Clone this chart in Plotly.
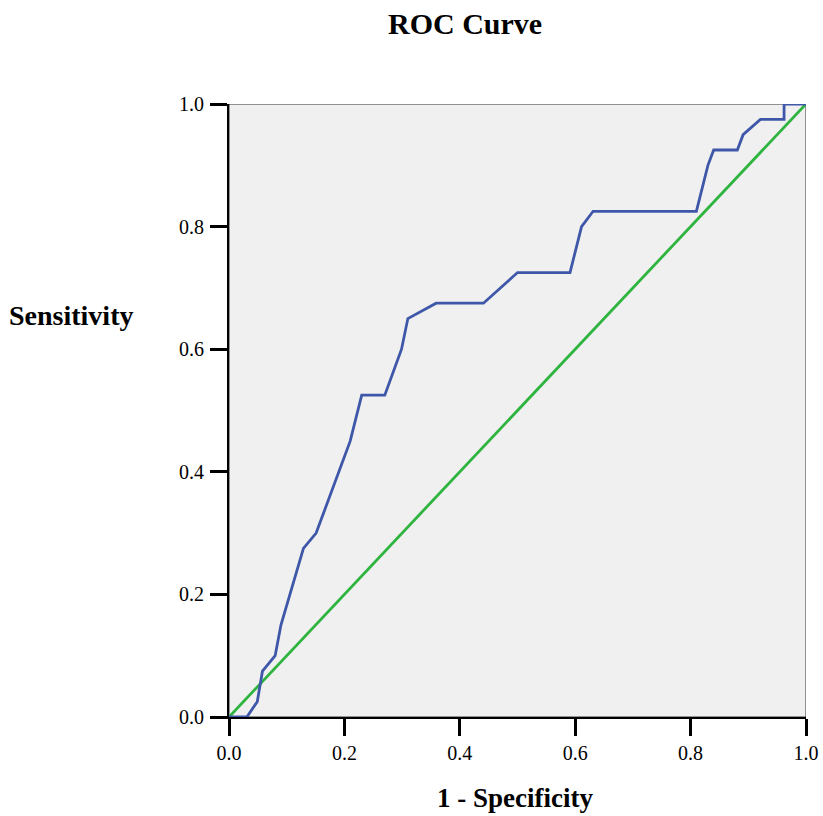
import plotly.graph_objects as go

fpr = [0.0, 0.031, 0.049, 0.058, 0.080, 0.090, 0.129, 0.151, 0.210, 0.230, 0.270,
       0.299, 0.310, 0.359, 0.441, 0.500, 0.591, 0.611, 0.631, 0.810, 0.830, 0.840,
       0.881, 0.891, 0.921, 0.962, 0.962, 1.0]
tpr = [0.0, 0.0, 0.025, 0.075, 0.100, 0.150, 0.275, 0.300, 0.450, 0.525, 0.525,
       0.600, 0.650, 0.675, 0.675, 0.725, 0.725, 0.800, 0.825, 0.825, 0.900, 0.925,
       0.925, 0.950, 0.975, 0.975, 1.0, 1.0]
ref_x = [0.0, 1.0]
ref_y = [0.0, 1.0]
tick_vals = [0.0, 0.2, 0.4, 0.6, 0.8, 1.0]
tick_text = ["0.0", "0.2", "0.4", "0.6", "0.8", "1.0"]

# body margin is removed in the page, so the figure fills the 823x816 window
W, H = 823, 816
# target plot area: x 229..806, y 104..717
L, T = 229, 104
R = W - 806
B = H - 717
PW = W - L - R
PH = H - T - B


def px_x(sx):
    return (sx - L) / PW


def px_y(sy):
    return (717 - sy) / PH


fig = go.Figure()
fig.add_trace(go.Scatter(x=ref_x, y=ref_y, mode="lines",
                         line=dict(color="#2EB43F", width=2.8), showlegend=False))
fig.add_trace(go.Scatter(x=fpr, y=tpr, mode="lines",
                         line=dict(color="#3F57A9", width=2.8), showlegend=False))

font = dict(family="Liberation Serif, Times New Roman, serif", color="black")
axis_common = dict(range=[0, 1], tickvals=tick_vals, ticktext=tick_text,
                   showgrid=False, zeroline=False, showline=True, linecolor="black",
                   linewidth=2, ticks="outside", ticklen=17, tickwidth=2.5,
                   tickcolor="black", tickfont=dict(size=20, **font),
                   automargin=False)

fig.update_layout(
    width=W, height=H,
    margin=dict(l=L, r=R, t=T, b=B, autoexpand=False),
    paper_bgcolor="white", plot_bgcolor="#F0F0F0",
    xaxis=dict(**axis_common),
    yaxis=dict(**axis_common, ticklabelstandoff=2),
    shapes=[dict(type="rect", xref="x", yref="y", x0=0, y0=0, x1=1, y1=1,
                 line=dict(color="#333333", width=1), layer="below")],
    annotations=[
        dict(text="<b>ROC Curve</b>", xref="paper", yref="paper",
             x=px_x(465), y=px_y(23),
             showarrow=False, font=dict(size=30, **font),
             xanchor="center", yanchor="middle"),
        dict(text="<b>Sensitivity</b>", xref="paper", yref="paper",
             x=px_x(71), y=px_y(315),
             showarrow=False, font=dict(size=28, **font),
             xanchor="center", yanchor="middle"),
        dict(text="<b>1 - Specificity</b>", xref="paper", yref="paper",
             x=px_x(515), y=px_y(798),
             showarrow=False, font=dict(size=27, **font),
             xanchor="center", yanchor="middle"),
    ],
)

fig.write_html("out.html",
               config={"displayModeBar": False},
               post_script="document.body.style.margin='0';"
                           "document.documentElement.style.overflow='hidden';")
